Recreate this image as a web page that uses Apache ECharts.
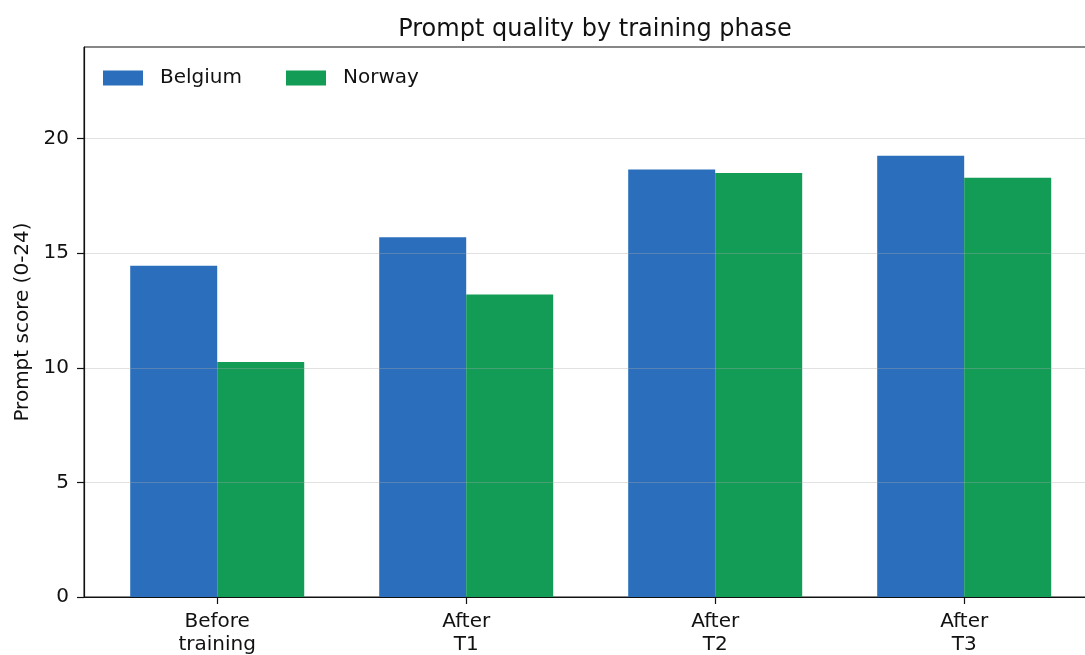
<!DOCTYPE html>
<html>
<head>
<meta charset="utf-8">
<script src="https://cdn.jsdelivr.net/npm/echarts@6/dist/echarts.min.js"></script>
<style>
  html, body { margin: 0; padding: 0; background: #fff; }
  #chart { width: 1085px; height: 655px; }
</style>
</head>
<body>
<div id="chart"></div>
<script>
const phases = ['Before\ntraining', 'After\nT1', 'After\nT2', 'After\nT3'];
const belgium = [14.45, 15.7, 18.65, 19.25];
const norway = [10.25, 13.2, 18.5, 18.3];
const yTicks = [0, 5, 10, 15, 20];

const font = 'DejaVu Sans';
const chart = echarts.init(document.getElementById('chart'));

const toPoints = vals => vals.map((v, i) => [i, v]);

const option = {
  animation: false,
  textStyle: { fontFamily: font },
  title: {
    text: 'Prompt quality by training phase',
    left: 590,
    textAlign: 'center',
    top: 13,
    textStyle: { fontFamily: font, fontSize: 24, fontWeight: 'normal', color: '#111' }
  },
  legend: {
    left: 103,
    top: 68,
    padding: 0,
    icon: 'rect',
    itemWidth: 40,
    itemHeight: 15,
    itemGap: 44,
    textStyle: { fontFamily: font, fontSize: 20, color: '#111', padding: [0, 0, 0, 12] },
    data: ['Belgium', 'Norway']
  },
  grid: {
    left: 84,
    right: -12.4,
    top: 47,
    bottom: 58,
    outerBoundsMode: 'none',
    containLabel: false,
    show: true,
    borderColor: '#111',
    borderWidth: 1,
    backgroundColor: 'transparent'
  },
  xAxis: {
    type: 'value',
    min: -0.535,
    max: 3.535,
    z: 3,
    axisLine: { onZero: false, lineStyle: { color: '#111', width: 1.2 } },
    axisTick: { customValues: [0, 1, 2, 3], length: 7, lineStyle: { color: '#111', width: 1.2 } },
    axisLabel: {
      customValues: [0, 1, 2, 3],
      formatter: v => phases[Math.round(v)],
      fontFamily: font, fontSize: 20, color: '#111', lineHeight: 23, margin: 13
    },
    splitLine: { show: false }
  },
  yAxis: {
    type: 'value',
    min: 0,
    max: 24,
    interval: 5,
    z: 3,
    name: 'Prompt score (0-24)',
    nameLocation: 'middle',
    nameGap: 51,
    nameTextStyle: { fontFamily: font, fontSize: 20, color: '#111' },
    axisLine: { show: true, onZero: false, lineStyle: { color: '#111', width: 1.2 } },
    axisTick: { show: true, customValues: yTicks, length: 7, lineStyle: { color: '#111', width: 1.2 } },
    axisLabel: { customValues: yTicks, fontFamily: font, fontSize: 20, color: '#111', margin: 15 },
    splitLine: { show: true, lineStyle: { color: 'rgba(170,170,170,0.35)', width: 1.2 } }
  },
  series: [
    {
      name: 'Belgium',
      type: 'bar',
      data: toPoints(belgium),
      barWidth: 87,
      barGap: '0%',
      itemStyle: { color: '#2b6fbc' }
    },
    {
      name: 'Norway',
      type: 'bar',
      data: toPoints(norway),
      barWidth: 87,
      barGap: '0%',
      itemStyle: { color: '#129c56' }
    }
  ]
};

chart.setOption(option);
</script>
</body>
</html>
